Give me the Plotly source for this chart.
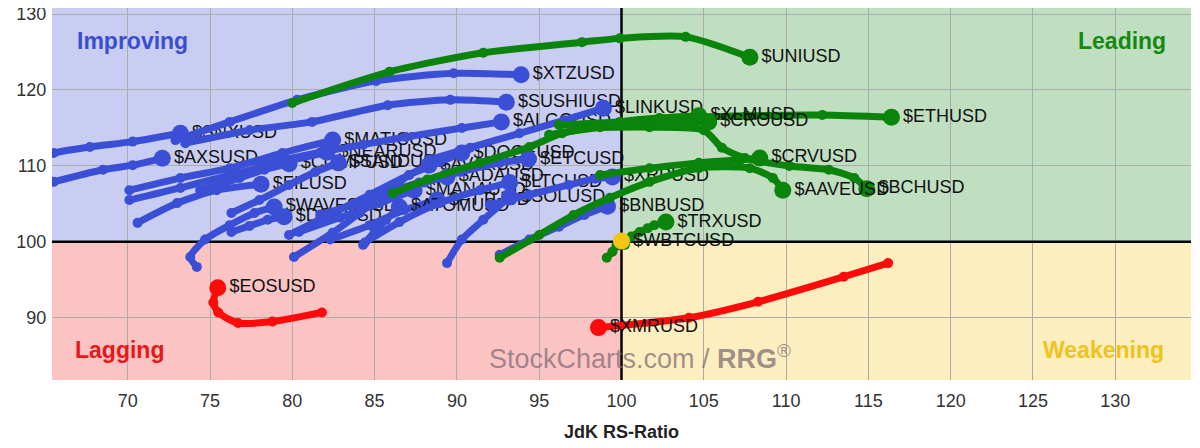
import plotly.graph_objects as go

# ---------------- data (JdK RS-Ratio, JdK RS-Momentum), oldest -> latest ----------------
# Improving (blue)
xtz_x = [72.9, 76.2, 80.3, 85.1, 89.8, 93.9]
xtz_y = [113.4, 115.8, 118.7, 121.2, 122.2, 122.0]
sushi_x = [73.5, 77.4, 81.2, 85.8, 89.6, 93.0]
sushi_y = [113.0, 114.7, 115.8, 118.0, 118.7, 118.4]
link_x = [88.3, 90.8, 93.8, 96.5, 98.9]
link_y = [110.8, 112.4, 114.3, 116.0, 117.6]
algo_x = [78.0, 81.7, 84.3, 86.9, 90.3, 92.7]
algo_y = [110.1, 111.8, 112.8, 113.8, 115.0, 115.8]
snx_x = [64.5, 65.5, 67.7, 70.3, 73.2]
snx_y = [111.0, 111.7, 112.5, 113.2, 114.3]
axs_x = [64.5, 65.5, 68.5, 70.3, 72.1]
axs_y = [107.3, 107.9, 109.5, 110.1, 111.0]
matic_x = [70.1, 73.2, 76.2, 79.4, 82.45]
matic_y = [106.8, 108.4, 109.7, 111.7, 113.4]
near_x = [70.1, 73.2, 76.2, 79.2, 82.1]
near_y = [105.5, 107.1, 108.8, 110.4, 111.8]
comp_x = [74.4, 76.8, 78.3, 79.8]
comp_y = [106.8, 108.4, 109.5, 110.3]
sand_x = [76.3, 78.0, 79.8, 81.4, 82.8]
sand_y = [103.8, 105.5, 107.5, 109.2, 110.4]
doge_x = [79.8, 82.3, 84.7, 87.1, 88.95, 90.3]
doge_y = [100.9, 103.6, 106.2, 108.8, 110.5, 111.7]
avax_x = [80.1, 82.45, 84.1, 85.9, 87.1, 88.3]
avax_y = [98.0, 101.2, 103.8, 106.8, 108.8, 110.1]
etc_x = [85.3, 87.7, 90.2, 92.6, 94.35]
etc_y = [106.2, 107.8, 109.2, 110.4, 110.9]
ada_x = [81.7, 84.1, 86.5, 88.0, 89.4]
ada_y = [103.6, 105.1, 106.8, 107.8, 108.55]
ltc_x = [84.4, 86.5, 88.95, 91.4, 93.2]
ltc_y = [99.9, 102.6, 105.1, 106.8, 107.8]
mana_x = [80.4, 82.9, 85.3, 87.4]
mana_y = [101.3, 103.2, 105.1, 106.8]
ftt_x = [82.3, 84.7, 86.8, 88.8]
ftt_y = [100.3, 102.2, 104.2, 105.5]
sol_x = [89.4, 90.3, 91.6, 93.2]
sol_y = [97.2, 100.3, 102.9, 105.9]
xrp_x = [92.0, 94.4, 96.8, 98.4, 99.45]
xrp_y = [104.9, 106.2, 107.5, 108.3, 108.55]
bnb_x = [92.6, 94.4, 96.2, 97.75, 99.15]
bnb_y = [98.3, 100.3, 102.0, 103.55, 104.7]
fil_x = [70.6, 73.0, 75.4, 78.1]
fil_y = [102.5, 105.1, 106.8, 107.6]
waves_x = [74.2, 73.8, 74.7, 76.2, 77.7, 78.9]
waves_y = [96.7, 98.0, 100.3, 102.2, 103.8, 104.6]
dot_x = [76.3, 77.4, 78.5, 79.5]
dot_y = [101.3, 102.1, 102.9, 103.3]
atom_x = [84.3, 85.0, 85.7, 86.5]
atom_y = [99.6, 101.3, 102.9, 104.6]

# Leading (green)
uni_x = [80.0, 85.9, 91.6, 97.6, 99.9, 103.9, 107.8]
uni_y = [118.3, 122.4, 124.9, 126.3, 126.8, 127.0, 124.3]
eth_x = [96.2, 101.1, 104.7, 107.6, 112.2, 116.4]
eth_y = [115.4, 115.9, 116.4, 116.6, 116.7, 116.4]
xlm_x = [86.1, 88.2, 91.4, 94.4, 96.4, 99.9, 102.3, 104.7]
xlm_y = [106.4, 108.2, 110.4, 112.5, 114.3, 115.8, 116.3, 116.6]
cro_x = [95.6, 98.7, 101.7, 103.5, 105.3]
cro_y = [114.1, 115.1, 115.5, 115.7, 115.8]
bch_x = [97.45, 101.7, 105.0, 106.1, 107.5, 110.2, 112.6, 114.15, 114.9]
bch_y = [115.0, 115.1, 114.7, 112.4, 111.05, 110.0, 109.5, 108.4, 107.0]
aave_x = [92.6, 95.0, 97.1, 99.3, 101.7, 104.7, 107.8, 109.2, 109.8]
aave_y = [97.9, 100.9, 103.55, 105.8, 107.9, 109.7, 109.7, 108.4, 106.8]
crv_x = [98.7, 101.7, 104.7, 107.2, 108.4]
crv_y = [108.8, 109.7, 110.4, 110.8, 111.05]
trx_x = [100.2, 100.6, 101.1, 101.6, 102.0, 102.7]
trx_y = [99.6, 100.7, 101.3, 101.8, 102.2, 102.6]

# Weakening (yellow head)
wbtc_x = [99.1, 99.45, 99.7, 100.0]
wbtc_y = [97.9, 98.7, 99.5, 100.1]

# Lagging (red)
eos_x = [81.8, 78.8, 76.7, 75.5, 75.2, 75.47]
eos_y = [90.7, 89.5, 89.3, 90.7, 92.0, 93.95]
xmr_x = [116.2, 113.5, 108.3, 104.1, 98.6]
xmr_y = [97.2, 95.4, 92.1, 90.0, 88.7]

x_ticks = [70, 75, 80, 85, 90, 95, 100, 105, 110, 115, 120, 125, 130]
y_ticks = [90, 100, 110, 120, 130]

BLUE = "#3A4FD6"
GREEN = "#0A840A"
RED = "#FF0A0A"
YELLOW = "#F5C414"

blue_series = [
    ("$SNXUSD", snx_x, snx_y), ("$AXSUSD", axs_x, axs_y),
    ("$FILUSD", fil_x, fil_y), ("$WAVESUSD", waves_x, waves_y),
    ("$DOTUSD", dot_x, dot_y), ("$COMPUSD", comp_x, comp_y),
    ("$NEARUSD", near_x, near_y), ("$SANDUSD", sand_x, sand_y),
    ("$MATICUSD", matic_x, matic_y), ("$AVAXUSD", avax_x, avax_y),
    ("$DOGEUSD", doge_x, doge_y), ("$MANAUSD", mana_x, mana_y),
    ("$FTTUSD", ftt_x, ftt_y), ("$ATOMUSD", atom_x, atom_y),
    ("$ADAUSD", ada_x, ada_y), ("$LTCUSD", ltc_x, ltc_y),
    ("$SOLUSD", sol_x, sol_y), ("$ETCUSD", etc_x, etc_y),
    ("$XRPUSD", xrp_x, xrp_y), ("$BNBUSD", bnb_x, bnb_y),
    ("$ALGOUSD", algo_x, algo_y), ("$SUSHIUSD", sushi_x, sushi_y),
    ("$XTZUSD", xtz_x, xtz_y), ("$LINKUSD", link_x, link_y),
]
green_series = [
    ("$UNIUSD", uni_x, uni_y), ("$ETHUSD", eth_x, eth_y),
    ("$XLMUSD", xlm_x, xlm_y), ("$CROUSD", cro_x, cro_y),
    ("$BCHUSD", bch_x, bch_y), ("$AAVEUSD", aave_x, aave_y),
    ("$CRVUSD", crv_x, crv_y), ("$TRXUSD", trx_x, trx_y),
]

fig = go.Figure()


def add(name, xs, ys, color, head_color=None):
    n = len(xs)
    fig.add_trace(go.Scatter(
        x=xs, y=ys, mode="lines+markers+text",
        line=dict(color=color, width=7, shape="spline", smoothing=0.7),
        marker=dict(size=[10] * (n - 1) + [17], opacity=1,
                    color=[color] * (n - 1) + [head_color or color],
                    line=dict(width=0)),
        text=[""] * (n - 1) + [name], textposition="middle right",
        textfont=dict(family="Arial", size=18, color="#111111"),
        hoverinfo="skip", showlegend=False))


for nm, xs, ys in blue_series:
    add(nm, xs, ys, BLUE)
for nm, xs, ys in green_series:
    add(nm, xs, ys, GREEN)
add("$WBTCUSD", wbtc_x, wbtc_y, GREEN, YELLOW)
add("$EOSUSD", eos_x, eos_y, RED)
add("$XMRUSD", xmr_x, xmr_y, RED)

# quadrant backgrounds
quads = [
    (60, 100, 100, 140, "#C9CDF2"),
    (100, 140, 100, 140, "#C0DEC0"),
    (60, 100, 70, 100, "#FCC3C3"),
    (100, 140, 70, 100, "#FCEEBF"),
]
for x0, x1, y0, y1, c in quads:
    fig.add_shape(type="rect", x0=x0, x1=x1, y0=y0, y1=y1, fillcolor=c,
                  line_width=0, layer="below")
fig.add_shape(type="line", x0=100, x1=100, y0=70, y1=140,
              line=dict(color="black", width=2.5), layer="between")
fig.add_shape(type="line", x0=60, x1=140, y0=100, y1=100,
              line=dict(color="black", width=2.5), layer="between")

qfont = dict(family="Arial", size=23)
fig.add_annotation(x=70.3, y=126.4, text="<b>Improving</b>", showarrow=False,
                   yanchor="middle", font=dict(qfont, color="#3A4FD0"))
fig.add_annotation(x=130.4, y=126.4, text="<b>Leading</b>", showarrow=False,
                   yanchor="middle", font=dict(qfont, color="#138A13"))
fig.add_annotation(x=69.5, y=85.7, text="<b>Lagging</b>", showarrow=False,
                   yanchor="middle", font=dict(qfont, color="#E81818"))
fig.add_annotation(x=129.3, y=85.7, text="<b>Weakening</b>", showarrow=False,
                   yanchor="middle", font=dict(qfont, color="#F0C21C"))

fig.add_annotation(xref="paper", yref="paper", x=0.516, y=0.062,
                   yanchor="middle",
                   text="StockCharts.com / <b>RRG</b><sup>®</sup>",
                   showarrow=False,
                   font=dict(family="Arial", size=27, color="rgba(125,105,120,0.72)"))
fig.add_annotation(xref="paper", yref="paper", x=0.5, y=-0.14,
                   yanchor="middle",
                   text="<b>JdK RS-Ratio</b>", showarrow=False,
                   font=dict(family="Arial", size=18, color="#222222"))

fig.update_xaxes(range=[65.4, 134.6], tickvals=x_ticks, showgrid=True,
                 gridcolor="#ABABAB", gridwidth=1, zeroline=False, showline=False,
                 automargin=False, ticklabeloverflow="allow",
                 tickfont=dict(family="Arial", size=18, color="#333333"),
                 ticks="outside", ticklen=4, tickcolor="rgba(0,0,0,0)")
fig.update_yaxes(range=[81.8, 130.8], tickvals=y_ticks, showgrid=True,
                 gridcolor="#ABABAB", gridwidth=1, zeroline=False, showline=False,
                 automargin=False, ticklabeloverflow="allow",
                 tickfont=dict(family="Arial", size=18, color="#333333"),
                 ticks="outside", ticklen=1, tickcolor="rgba(0,0,0,0)")
fig.update_layout(width=1200, height=448, margin=dict(l=44, r=17, t=0, b=76),
                  paper_bgcolor="white", plot_bgcolor="white")

fig.write_html("out.html")
